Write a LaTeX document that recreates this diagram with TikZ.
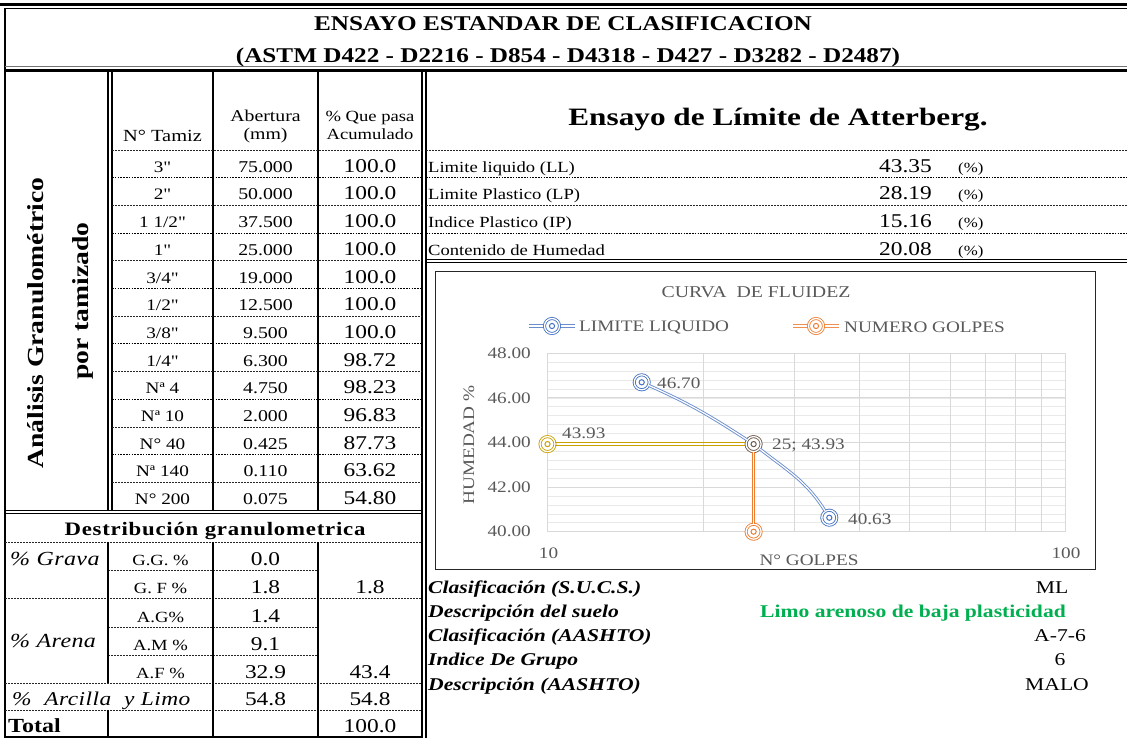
\documentclass[tikz,border=0pt]{standalone}
\usepackage{fontspec}
\setmainfont{Liberation Serif}[FakeStretch=1.2,Ligatures=TeXOff]
\newfontfamily\headfont{Liberation Serif}[FakeStretch=1.25]
\newfontfamily\spacedfont{Liberation Serif}[FakeStretch=1.2,LetterSpace=4]
\newcommand\fsz[1]{\fontsize{#1}{#1}\selectfont}
\definecolor{gridmaj}{HTML}{D9D9D9}
\definecolor{gridmin}{HTML}{E9E9E9}
\definecolor{txtg}{HTML}{595959}
\definecolor{sblue}{HTML}{4472C4}
\definecolor{sorange}{HTML}{ED7D31}
\definecolor{sgold}{HTML}{C9A000}
\definecolor{sbrown}{HTML}{6E5A4C}
\definecolor{limo}{HTML}{00B050}
\begin{document}
\begin{tikzpicture}[x=1pt,y=-1pt,
  tx/.style={inner sep=0pt,anchor=base},
  txw/.style={inner sep=0pt,anchor=base west},
  txe/.style={inner sep=0pt,anchor=base east},
  vline/.style={line width=1.4pt},
  rowA/.style={line width=1.1pt,dash pattern=on 1.6pt off 1.2pt},
  rowB/.style={line width=0.7pt,dash pattern=on 2pt off 1pt,black!85},
  ctx/.style={inner sep=0pt,text=txtg,font=\fsz{16}},
  ser/.style={draw=#1,line width=0.9pt,double=white,double distance=1.2pt},
  leg/.style={draw=#1,line width=0.9pt},
  mk/.style={circle,minimum size=15pt,inner sep=0pt,draw=#1,line width=0.85pt,
    double=white,double distance=1.3pt,fill=white,
    path picture={\draw[#1,line width=1pt] (path picture bounding box.center) circle (2.6pt);}}
]
\useasboundingbox (0,0) rectangle (1127,738);
\fill[white] (0,0) rectangle (1127,738);

% ---------- outer frame and title ----------
\draw[line width=2.6pt] (0,4.5) -- (1127,4.5);
\draw[line width=1pt] (5,8.5) -- (1127,8.5);
\draw[line width=1.5pt] (5,8) -- (5,737.5);
\draw[line width=0.8pt,black!55] (5,66.5) -- (1127,66.5);
\draw[line width=3pt] (5,70.5) -- (1127,70.5);
\node[tx,font=\fsz{21}\bfseries] (title1) at (563,30.5) {ENSAYO ESTANDAR DE CLASIFICACION};
\node[tx,font=\fsz{21}\bfseries] (title2) at (568,63) {(ASTM D422 - D2216 - D854 - D4318 - D427 - D3282 - D2487)};

% ---------- upper left table: grid ----------
\draw[line width=1.1pt] (108,72) -- (108,510);
\draw[line width=1.1pt] (112,72) -- (112,510);
\draw[vline] (213,72) -- (213,510);
\draw[vline] (318,72) -- (318,510);
\draw[line width=1.1pt] (422,72) -- (422,738);
\draw[line width=1.1pt] (426,72) -- (426,738);
\foreach \i in {0,2,...,12} {\pgfmathsetmacro\yy{150+27.7*\i}\draw[rowB] (112,\yy) -- (422,\yy);}
\foreach \i in {1,3,...,11} {\pgfmathsetmacro\yy{150+27.7*\i}\draw[rowA] (112,\yy) -- (422,\yy);}
\draw[line width=1pt] (5,510) -- (422,510);
\draw[line width=1.6pt] (5,513.5) -- (422,513.5);

% rotated title
\node[tx,rotate=90,font=\fsz{23}\bfseries] (ana1) at (43.5,323) {Análisis Granulométrico};
\node[tx,rotate=90,font=\fsz{23}\bfseries] (ana2) at (88,301) {por tamizado};

% header
\node[tx,font=\fsz{17}] (hB) at (162.5,141.5) {N° Tamiz};
\node[tx,font=\fsz{16.5}] (hC1) at (265.5,121.5) {Abertura};
\node[tx,font=\fsz{16.5}] (hC2) at (265.5,140) {(mm)};
\node[tx,font=\fsz{15.5}] (hD1) at (370,121.5) {\% Que pasa};
\node[tx,font=\fsz{15.5}] (hD2) at (370,140) {Acumulado};

% data
\foreach [count=\i] \a/\b/\c in {{3"}/75.000/100.0,{2"}/50.000/100.0,{1 1/2"}/37.500/100.0,{1"}/25.000/100.0,{3/4"}/19.000/100.0,{1/2"}/12.500/100.0,{3/8"}/9.500/100.0,{1/4"}/6.300/98.72,{Nª 4}/4.750/98.23,{Nª 10}/2.000/96.83,{N° 40}/0.425/87.73,{Nª 140}/0.110/63.62,{N° 200}/0.075/54.80} {
  \pgfmathsetmacro\yb{150+27.7*\i-5.5}
  \node[tx,font=\fsz{16}] (tb\i) at (162.5,\yb) {\a};
  \node[tx,font=\fsz{16.5}] (tc\i) at (265.5,\yb) {\b};
  \node[tx,font=\fsz{19.5}] (td\i) at (370,\yb) {\c};
}

% ---------- lower left table ----------
\draw[rowB] (5,542) -- (422,542);
\draw[rowB] (108,570) -- (318,570);
\draw[rowB] (5,598) -- (422,598);
\draw[rowB] (108,627) -- (318,627);
\draw[rowB] (108,655) -- (318,655);
\draw[rowB] (5,683) -- (422,683);
\draw[rowB] (5,710) -- (422,710);
\draw[line width=1.5pt] (5,737) -- (422,737);
\draw[line width=1.2pt] (108,542) -- (108,683);
\draw[line width=1.2pt] (108,710) -- (108,737);
\draw[line width=1.2pt] (213,542) -- (213,737);
\draw[line width=1.2pt] (318,542) -- (318,737);

\node[tx,font=\fsz{19}\spacedfont\bfseries] (dg) at (215,535.5) {Destribución granulometrica};
\node[txw,font=\fsz{20}\itshape\addfontfeature{LetterSpace=2}] (grava) at (10,565) {\% Grava};
\node[txw,font=\fsz{20}\itshape\addfontfeature{LetterSpace=2}] (arena) at (10,647) {\% Arena};
\node[txw,font=\fsz{19.5}\itshape\addfontfeature{LetterSpace=2.5}] (arci) at (12,705) {\%\ \ Arcilla\ \ y Limo};
\node[txw,font=\fsz{20}\bfseries] (total) at (8,732) {Total};
\foreach \n/\y/\a/\b in {gg/565/{G.G. \%}/0.0, gf/593/{G. F \%}/1.8, ag/622/{A.G\%}/1.4, am/650/{A.M \%}/9.1, af/678/{A.F \%}/32.9} {
  \node[tx,font=\fsz{15.5}] (\n b) at (160.5,\y) {\a};
  \node[tx,font=\fsz{19.5}] (\n c) at (265.5,\y) {\b};
}
\node[tx,font=\fsz{19.5}] (gfd) at (370,593) {1.8};
\node[tx,font=\fsz{19.5}] (afd) at (370,678) {43.4};
\node[tx,font=\fsz{19.5}] (arcc) at (265.5,705) {54.8};
\node[tx,font=\fsz{19.5}] (arcd) at (370,705) {54.8};
\node[tx,font=\fsz{19.5}] (totd) at (370,732) {100.0};

% ---------- Atterberg ----------
\node[tx,font=\fsz{25}\headfont\bfseries] (att) at (778,126) {Ensayo de Límite de Atterberg.};
\foreach \i in {0,2} {\pgfmathsetmacro\yy{150+27.7*\i}\draw[rowB] (426,\yy) -- (1127,\yy);}
\foreach \i in {1,3} {\pgfmathsetmacro\yy{150+27.7*\i}\draw[rowA] (426,\yy) -- (1127,\yy);}
\draw[line width=1pt] (426,259) -- (1127,259);
\draw[line width=1.6pt] (426,262.5) -- (1127,262.5);
\foreach [count=\i] \l/\v in {{Limite liquido (LL)}/43.35,{Limite Plastico (LP)}/28.19,{Indice Plastico (IP)}/15.16,{Contenido de Humedad}/20.08} {
  \pgfmathsetmacro\yb{150+27.7*\i-5.5}
  \node[txw,font=\fsz{15.5}] (al\i) at (428,\yb) {\l};
  \node[txe,font=\fsz{19.5}] (av\i) at (932,\yb) {\v};
  \node[txw,font=\fsz{14}] (ap\i) at (958,\yb) {(\%)};
}

% ---------- chart ----------
\draw[line width=0.9pt,black!85] (435,271.5) rectangle (1095,569);
\foreach \k in {1,...,19} {\pgfmathsetmacro\yy{353.3+\k*8.92}\draw[gridmin,line width=0.7pt] (547.5,\yy) -- (1065.5,\yy);}
\foreach \xx in {703.4,794.6,859.4,909.6,950.6,985.3,1015.3,1041.8} {\draw[gridmaj,line width=0.8pt] (\xx,353.3) -- (\xx,531.7);}
\foreach \v/\yy in {48.00/353.3,46.00/397.9,44.00/442.5,42.00/487.1,40.00/531.7} {
  \draw[gridmaj,line width=0.9pt] (547.5,\yy) -- (1065.5,\yy);
  \node[ctx,anchor=east] (yl\v) at (531,\yy) {\v};
}
\draw[gridmaj,line width=0.9pt] (547.5,353.3) rectangle (1065.5,531.7);
\node[ctx,font=\fsz{16.5}] (ctitle) at (756,292) {CURVA\ \ DE FLUIDEZ};
\node[ctx] (xl10) at (548.5,553) {10};
\node[ctx] (xl100) at (1066,553) {100};
\node[ctx] (xlab) at (809,560) {N° GOLPES};
\node[ctx,rotate=90] (ylab) at (469,445) {HUMEDAD \%};

% legend
\coordinate (lb1a) at (529,324.2);
\coordinate (lb2a) at (575,324.2);
\coordinate (lb1b) at (529,327.8);
\coordinate (lb2b) at (575,327.8);
\draw[leg=sblue!80] (lb1a) -- (lb2a);
\draw[leg=sblue!80] (lb1b) -- (lb2b);
\node[mk=sblue] (lbm) at (552,326) {};
\node[ctx,anchor=west] (lbt) at (579,327) {LIMITE LIQUIDO};
\coordinate (lo1a) at (793,324.2);
\coordinate (lo2a) at (839,324.2);
\coordinate (lo1b) at (793,327.8);
\coordinate (lo2b) at (839,327.8);
\draw[leg=sorange!85] (lo1a) -- (lo2a);
\draw[leg=sorange!85] (lo1b) -- (lo2b);
\node[mk=sorange] (lom) at (816,326) {};
\node[ctx,anchor=west] (lot) at (844,327) {NUMERO GOLPES};

% series
\node[mk=sblue] (p1) at (641.7,382.3) {};
\node[mk=sbrown] (p2) at (753.6,444.1) {};
\node[mk=sblue] (p3) at (829.3,517.7) {};
\node[mk=sgold] (g1) at (547.5,444.1) {};
\node[mk=sorange] (o1) at (753.6,531.7) {};
\draw[ser=sblue!80] (p1) to[out=-24,in=147] (p2);
\draw[ser=sblue!80] (p2) to[out=-38,in=122] (p3);
\draw[leg=sgold] ([yshift=1.8pt]g1.east) -- ([yshift=1.8pt]p2.west);
\draw[leg=sgold] ([yshift=-1.8pt]g1.east) -- ([yshift=-1.8pt]p2.west);
\draw[ser=sorange] (p2) -- (o1);
\node[ctx,anchor=west] (d1) at (657,383) {46.70};
\node[ctx,anchor=west] (d2) at (772,445) {25; 43.93};
\node[ctx,anchor=west] (d3) at (848,519) {40.63};
\node[ctx,anchor=west] (d4) at (562,433) {43.93};

% ---------- classification ----------
\foreach [count=\i] \l/\yb in {{Clasificación (S.U.C.S.)}/593,{Descripción del suelo}/617.5,{Clasificación (AASHTO)}/641.5,{Indice De Grupo}/665.5,{Descripción (AASHTO)}/690} {
  \node[txw,font=\fsz{18}\bfseries\itshape] (cl\i) at (428,\yb) {\l};
}
\node[tx,font=\fsz{18}] (cv1) at (1052,593) {ML};
\node[tx,font=\fsz{18}\bfseries,text=limo] (cv2) at (913,617.5) {Limo arenoso de baja plasticidad};
\node[tx,font=\fsz{18}] (cv3) at (1060,641.5) {A-7-6};
\node[tx,font=\fsz{18}] (cv4) at (1060,665.5) {6};
\node[tx,font=\fsz{18}] (cv5) at (1057,690) {MALO};
\end{tikzpicture}
\end{document}
